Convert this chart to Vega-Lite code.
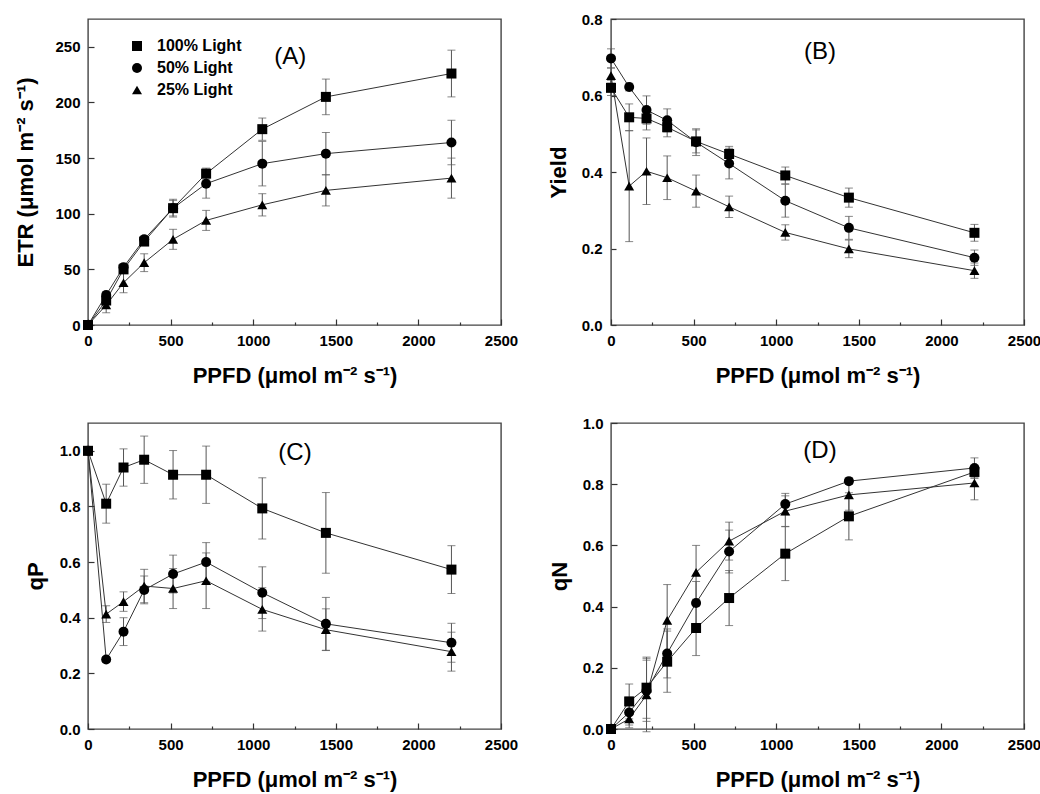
{
  "$schema": "https://vega.github.io/schema/vega-lite/v6.json",
  "background": "white",
  "padding": {"left": 14, "top": 11, "right": 5, "bottom": 5},
  "config": {
    "font": "Liberation Sans",
    "view": {"stroke": "#444", "strokeWidth": 1.4},
    "axis": {
      "labelFont": "Liberation Sans", "labelFontWeight": "bold", "labelFontSize": 15, "labelColor": "black",
      "titleFont": "Liberation Sans", "titleFontWeight": "bold", "titleFontSize": 22, "titleColor": "black",
      "grid": false, "domain": false, "tickColor": "#333", "tickWidth": 1.2, "labelFlush": false, "labelOverlap": false, "labelPadding": 14
    }
  },
  "datasets": {
    "d": [
      {"m":"ETR","light":"100% Light","ppfd":0,"v":0,"e":0},
      {"m":"ETR","light":"100% Light","ppfd":110,"v":22,"e":3},
      {"m":"ETR","light":"100% Light","ppfd":215,"v":50,"e":3},
      {"m":"ETR","light":"100% Light","ppfd":340,"v":75,"e":3},
      {"m":"ETR","light":"100% Light","ppfd":515,"v":105,"e":8},
      {"m":"ETR","light":"100% Light","ppfd":715,"v":136,"e":5},
      {"m":"ETR","light":"100% Light","ppfd":1055,"v":176,"e":10},
      {"m":"ETR","light":"100% Light","ppfd":1440,"v":205,"e":16},
      {"m":"ETR","light":"100% Light","ppfd":2200,"v":226,"e":21},
      {"m":"ETR","light":"50% Light","ppfd":0,"v":0,"e":0},
      {"m":"ETR","light":"50% Light","ppfd":110,"v":27,"e":3},
      {"m":"ETR","light":"50% Light","ppfd":215,"v":52,"e":3},
      {"m":"ETR","light":"50% Light","ppfd":340,"v":77,"e":3},
      {"m":"ETR","light":"50% Light","ppfd":515,"v":105,"e":7},
      {"m":"ETR","light":"50% Light","ppfd":715,"v":127,"e":13},
      {"m":"ETR","light":"50% Light","ppfd":1055,"v":145,"e":20},
      {"m":"ETR","light":"50% Light","ppfd":1440,"v":154,"e":19},
      {"m":"ETR","light":"50% Light","ppfd":2200,"v":164,"e":20},
      {"m":"ETR","light":"25% Light","ppfd":0,"v":0,"e":0},
      {"m":"ETR","light":"25% Light","ppfd":110,"v":18,"e":7},
      {"m":"ETR","light":"25% Light","ppfd":215,"v":38,"e":9},
      {"m":"ETR","light":"25% Light","ppfd":340,"v":56,"e":8},
      {"m":"ETR","light":"25% Light","ppfd":515,"v":77,"e":9},
      {"m":"ETR","light":"25% Light","ppfd":715,"v":94,"e":9},
      {"m":"ETR","light":"25% Light","ppfd":1055,"v":108,"e":10},
      {"m":"ETR","light":"25% Light","ppfd":1440,"v":121,"e":14},
      {"m":"ETR","light":"25% Light","ppfd":2200,"v":132,"e":18},

      {"m":"Yield","light":"100% Light","ppfd":0,"v":0.62,"e":0.02},
      {"m":"Yield","light":"100% Light","ppfd":110,"v":0.543,"e":0.035},
      {"m":"Yield","light":"100% Light","ppfd":215,"v":0.54,"e":0.03},
      {"m":"Yield","light":"100% Light","ppfd":340,"v":0.517,"e":0.025},
      {"m":"Yield","light":"100% Light","ppfd":515,"v":0.48,"e":0.03},
      {"m":"Yield","light":"100% Light","ppfd":715,"v":0.447,"e":0.02},
      {"m":"Yield","light":"100% Light","ppfd":1055,"v":0.391,"e":0.022},
      {"m":"Yield","light":"100% Light","ppfd":1440,"v":0.333,"e":0.025},
      {"m":"Yield","light":"100% Light","ppfd":2200,"v":0.241,"e":0.022},
      {"m":"Yield","light":"50% Light","ppfd":0,"v":0.697,"e":0.025},
      {"m":"Yield","light":"50% Light","ppfd":110,"v":0.622,"e":0.01},
      {"m":"Yield","light":"50% Light","ppfd":215,"v":0.562,"e":0.037},
      {"m":"Yield","light":"50% Light","ppfd":340,"v":0.535,"e":0.03},
      {"m":"Yield","light":"50% Light","ppfd":515,"v":0.478,"e":0.035},
      {"m":"Yield","light":"50% Light","ppfd":715,"v":0.422,"e":0.04},
      {"m":"Yield","light":"50% Light","ppfd":1055,"v":0.325,"e":0.043},
      {"m":"Yield","light":"50% Light","ppfd":1440,"v":0.254,"e":0.03},
      {"m":"Yield","light":"50% Light","ppfd":2200,"v":0.176,"e":0.02},
      {"m":"Yield","light":"25% Light","ppfd":0,"v":0.652,"e":0.02},
      {"m":"Yield","light":"25% Light","ppfd":110,"v":0.363,"e":0.145},
      {"m":"Yield","light":"25% Light","ppfd":215,"v":0.402,"e":0.087},
      {"m":"Yield","light":"25% Light","ppfd":340,"v":0.385,"e":0.057},
      {"m":"Yield","light":"25% Light","ppfd":515,"v":0.35,"e":0.042},
      {"m":"Yield","light":"25% Light","ppfd":715,"v":0.309,"e":0.028},
      {"m":"Yield","light":"25% Light","ppfd":1055,"v":0.242,"e":0.02},
      {"m":"Yield","light":"25% Light","ppfd":1440,"v":0.199,"e":0.023},
      {"m":"Yield","light":"25% Light","ppfd":2200,"v":0.142,"e":0.02},

      {"m":"qP","light":"100% Light","ppfd":0,"v":1.0,"e":0.01},
      {"m":"qP","light":"100% Light","ppfd":110,"v":0.81,"e":0.07},
      {"m":"qP","light":"100% Light","ppfd":215,"v":0.94,"e":0.067},
      {"m":"qP","light":"100% Light","ppfd":340,"v":0.968,"e":0.085},
      {"m":"qP","light":"100% Light","ppfd":515,"v":0.914,"e":0.087},
      {"m":"qP","light":"100% Light","ppfd":715,"v":0.914,"e":0.103},
      {"m":"qP","light":"100% Light","ppfd":1055,"v":0.793,"e":0.11},
      {"m":"qP","light":"100% Light","ppfd":1440,"v":0.705,"e":0.145},
      {"m":"qP","light":"100% Light","ppfd":2200,"v":0.573,"e":0.086},
      {"m":"qP","light":"50% Light","ppfd":0,"v":1.0,"e":0.01},
      {"m":"qP","light":"50% Light","ppfd":110,"v":0.25,"e":0.01},
      {"m":"qP","light":"50% Light","ppfd":215,"v":0.35,"e":0.05},
      {"m":"qP","light":"50% Light","ppfd":340,"v":0.5,"e":0.05},
      {"m":"qP","light":"50% Light","ppfd":515,"v":0.557,"e":0.068},
      {"m":"qP","light":"50% Light","ppfd":715,"v":0.6,"e":0.07},
      {"m":"qP","light":"50% Light","ppfd":1055,"v":0.49,"e":0.093},
      {"m":"qP","light":"50% Light","ppfd":1440,"v":0.378,"e":0.095},
      {"m":"qP","light":"50% Light","ppfd":2200,"v":0.31,"e":0.07},
      {"m":"qP","light":"25% Light","ppfd":0,"v":1.0,"e":0.01},
      {"m":"qP","light":"25% Light","ppfd":110,"v":0.413,"e":0.03},
      {"m":"qP","light":"25% Light","ppfd":215,"v":0.458,"e":0.035},
      {"m":"qP","light":"25% Light","ppfd":340,"v":0.514,"e":0.06},
      {"m":"qP","light":"25% Light","ppfd":515,"v":0.505,"e":0.072},
      {"m":"qP","light":"25% Light","ppfd":715,"v":0.533,"e":0.1},
      {"m":"qP","light":"25% Light","ppfd":1055,"v":0.43,"e":0.078},
      {"m":"qP","light":"25% Light","ppfd":1440,"v":0.357,"e":0.075},
      {"m":"qP","light":"25% Light","ppfd":2200,"v":0.278,"e":0.07},

      {"m":"qN","light":"100% Light","ppfd":0,"v":0,"e":0},
      {"m":"qN","light":"100% Light","ppfd":110,"v":0.09,"e":0.057},
      {"m":"qN","light":"100% Light","ppfd":215,"v":0.135,"e":0.1},
      {"m":"qN","light":"100% Light","ppfd":340,"v":0.22,"e":0.1},
      {"m":"qN","light":"100% Light","ppfd":515,"v":0.33,"e":0.09},
      {"m":"qN","light":"100% Light","ppfd":715,"v":0.428,"e":0.09},
      {"m":"qN","light":"100% Light","ppfd":1055,"v":0.573,"e":0.088},
      {"m":"qN","light":"100% Light","ppfd":1440,"v":0.695,"e":0.077},
      {"m":"qN","light":"100% Light","ppfd":2200,"v":0.84,"e":0.02},
      {"m":"qN","light":"50% Light","ppfd":0,"v":0,"e":0},
      {"m":"qN","light":"50% Light","ppfd":110,"v":0.054,"e":0.05},
      {"m":"qN","light":"50% Light","ppfd":215,"v":0.125,"e":0.1},
      {"m":"qN","light":"50% Light","ppfd":340,"v":0.247,"e":0.08},
      {"m":"qN","light":"50% Light","ppfd":515,"v":0.412,"e":0.07},
      {"m":"qN","light":"50% Light","ppfd":715,"v":0.58,"e":0.07},
      {"m":"qN","light":"50% Light","ppfd":1055,"v":0.735,"e":0.035},
      {"m":"qN","light":"50% Light","ppfd":1440,"v":0.81,"e":0.01},
      {"m":"qN","light":"50% Light","ppfd":2200,"v":0.853,"e":0.033},
      {"m":"qN","light":"25% Light","ppfd":0,"v":0,"e":0},
      {"m":"qN","light":"25% Light","ppfd":110,"v":0.033,"e":0.02},
      {"m":"qN","light":"25% Light","ppfd":215,"v":0.111,"e":0.12},
      {"m":"qN","light":"25% Light","ppfd":340,"v":0.355,"e":0.117},
      {"m":"qN","light":"25% Light","ppfd":515,"v":0.512,"e":0.088},
      {"m":"qN","light":"25% Light","ppfd":715,"v":0.614,"e":0.062},
      {"m":"qN","light":"25% Light","ppfd":1055,"v":0.712,"e":0.05},
      {"m":"qN","light":"25% Light","ppfd":1440,"v":0.765,"e":0.05},
      {"m":"qN","light":"25% Light","ppfd":2200,"v":0.804,"e":0.055}
    ]
  },
  "columns": 2,
  "spacing": {"row": 98, "column": 110},
  "bounds": "flush",
  "resolve": {"scale": {"shape": "independent"}, "legend": {"shape": "independent"}},
  "concat": [
    {
      "width": 413, "height": 306,
      "layer": [
        {
          "data": {"name": "d"},
          "transform": [{"filter": "datum.m === 'ETR'"}],
          "mark": {"type": "errorbar", "ticks": {"size": 8}, "color": "#555"},
          "encoding": {
            "x": {"field": "ppfd", "type": "quantitative", "scale": {"domain": [0, 2500], "nice": false}, "title": "PPFD (μmol m⁻² s⁻¹)"},
            "y": {"field": "v", "type": "quantitative", "scale": {"domain": [0, 275], "nice": false}, "title": "ETR (μmol m⁻² s⁻¹)"},
            "yError": {"field": "e"},
            "detail": {"field": "light"}
          }
        },
        {
          "data": {"name": "d"},
          "transform": [{"filter": "datum.m === 'ETR'"}],
          "mark": {"type": "line", "color": "#333", "strokeWidth": 1},
          "encoding": {
            "x": {"field": "ppfd", "type": "quantitative",
              "axis": {"title": "PPFD (μmol m⁻² s⁻¹)", "format": "d", "values": [0,250,500,750,1000,1250,1500,1750,2000,2250,2500],
                "labelExpr": "datum.value % 500 === 0 ? datum.label : ''", "labelOverlap": false,
                "tickSize": {"condition": {"test": "datum.value % 500 === 0", "value": -6}, "value": -3}, "titlePadding": 14}},
            "y": {"field": "v", "type": "quantitative",
              "axis": {"title": "ETR (μmol m⁻² s⁻¹)", "format": "d", "values": [0,25,50,75,100,125,150,175,200,225,250],
                "labelExpr": "datum.value % 50 === 0 ? datum.label : ''", "labelOverlap": false,
                "tickSize": {"condition": {"test": "datum.value % 50 === 0", "value": -6}, "value": -3}, "titlePadding": 17}},
            "detail": {"field": "light"}
          }
        },
        {
          "data": {"name": "d"},
          "transform": [{"filter": "datum.m === 'ETR'"}],
          "mark": {"type": "point", "filled": true, "color": "black", "opacity": 1, "size": 100},
          "encoding": {
            "x": {"field": "ppfd", "type": "quantitative"},
            "y": {"field": "v", "type": "quantitative"},
            "shape": {"field": "light", "type": "nominal",
              "scale": {"domain": ["100% Light", "50% Light", "25% Light"], "range": ["square", "circle", "triangle-up"]},
              "legend": {"title": null, "orient": "none", "legendX": 41, "legendY": 19, "padding": 0,
                "labelFont": "Liberation Sans", "labelFontSize": 16, "labelFontWeight": "bold", "labelColor": "black",
                "labelOffset": 12, "rowPadding": 6, "symbolSize": 100, "symbolOpacity": 1}}
          }
        },
        {
          "data": {"values": [{"label": "(A)"}]},
          "mark": {"type": "text", "fontSize": 24, "font": "Liberation Sans", "color": "black"},
          "encoding": {"x": {"datum": 1225}, "y": {"datum": 241}, "text": {"field": "label"}}
        }
      ]
    },
    {
      "width": 413, "height": 306,
      "layer": [
        {
          "data": {"name": "d"},
          "transform": [{"filter": "datum.m === 'Yield'"}],
          "mark": {"type": "errorbar", "ticks": {"size": 8}, "color": "#555"},
          "encoding": {
            "x": {"field": "ppfd", "type": "quantitative", "scale": {"domain": [0, 2500], "nice": false}, "title": "PPFD (μmol m⁻² s⁻¹)"},
            "y": {"field": "v", "type": "quantitative", "scale": {"domain": [0, 0.8], "nice": false}, "title": "Yield"},
            "yError": {"field": "e"},
            "detail": {"field": "light"}
          }
        },
        {
          "data": {"name": "d"},
          "transform": [{"filter": "datum.m === 'Yield'"}],
          "mark": {"type": "line", "color": "#333", "strokeWidth": 1},
          "encoding": {
            "x": {"field": "ppfd", "type": "quantitative",
              "axis": {"title": "PPFD (μmol m⁻² s⁻¹)", "format": "d", "values": [0,250,500,750,1000,1250,1500,1750,2000,2250,2500],
                "labelExpr": "datum.value % 500 === 0 ? datum.label : ''", "labelOverlap": false,
                "tickSize": {"condition": {"test": "datum.value % 500 === 0", "value": -6}, "value": -3}, "titlePadding": 14}},
            "y": {"field": "v", "type": "quantitative",
              "axis": {"title": "Yield", "format": ".1f", "values": [0,0.1,0.2,0.3,0.4,0.5,0.6,0.7,0.8],
                "labelOverlap": false, "tickSize": -5, "titlePadding": 11}},
            "detail": {"field": "light"}
          }
        },
        {
          "data": {"name": "d"},
          "transform": [{"filter": "datum.m === 'Yield'"}],
          "mark": {"type": "point", "filled": true, "color": "black", "opacity": 1, "size": 100},
          "encoding": {
            "x": {"field": "ppfd", "type": "quantitative"},
            "y": {"field": "v", "type": "quantitative"},
            "shape": {"field": "light", "type": "nominal",
              "scale": {"domain": ["100% Light", "50% Light", "25% Light"], "range": ["square", "circle", "triangle-up"]},
              "legend": null}
          }
        },
        {
          "data": {"values": [{"label": "(B)"}]},
          "mark": {"type": "text", "fontSize": 24, "font": "Liberation Sans", "color": "black"},
          "encoding": {"x": {"datum": 1265}, "y": {"datum": 0.714}, "text": {"field": "label"}}
        }
      ]
    },
    {
      "width": 413, "height": 306,
      "layer": [
        {
          "data": {"name": "d"},
          "transform": [{"filter": "datum.m === 'qP'"}],
          "mark": {"type": "errorbar", "ticks": {"size": 8}, "color": "#555"},
          "encoding": {
            "x": {"field": "ppfd", "type": "quantitative", "scale": {"domain": [0, 2500], "nice": false}, "title": "PPFD (μmol m⁻² s⁻¹)"},
            "y": {"field": "v", "type": "quantitative", "scale": {"domain": [0, 1.1], "nice": false}, "title": "qP"},
            "yError": {"field": "e"},
            "detail": {"field": "light"}
          }
        },
        {
          "data": {"name": "d"},
          "transform": [{"filter": "datum.m === 'qP'"}],
          "mark": {"type": "line", "color": "#333", "strokeWidth": 1},
          "encoding": {
            "x": {"field": "ppfd", "type": "quantitative",
              "axis": {"title": "PPFD (μmol m⁻² s⁻¹)", "format": "d", "values": [0,250,500,750,1000,1250,1500,1750,2000,2250,2500],
                "labelExpr": "datum.value % 500 === 0 ? datum.label : ''", "labelOverlap": false,
                "tickSize": {"condition": {"test": "datum.value % 500 === 0", "value": -6}, "value": -3}, "titlePadding": 14}},
            "y": {"field": "v", "type": "quantitative",
              "axis": {"title": "qP", "format": ".1f", "values": [0,0.1,0.2,0.3,0.4,0.5,0.6,0.7,0.8,0.9,1.0],
                "labelExpr": "round(datum.value * 10) % 2 === 0 ? datum.label : ''", "labelOverlap": false,
                "tickSize": {"condition": {"test": "round(datum.value * 10) % 2 === 0", "value": -6}, "value": -3}, "titlePadding": 12}},
            "detail": {"field": "light"}
          }
        },
        {
          "data": {"name": "d"},
          "transform": [{"filter": "datum.m === 'qP'"}],
          "mark": {"type": "point", "filled": true, "color": "black", "opacity": 1, "size": 100},
          "encoding": {
            "x": {"field": "ppfd", "type": "quantitative"},
            "y": {"field": "v", "type": "quantitative"},
            "shape": {"field": "light", "type": "nominal",
              "scale": {"domain": ["100% Light", "50% Light", "25% Light"], "range": ["square", "circle", "triangle-up"]},
              "legend": null}
          }
        },
        {
          "data": {"values": [{"label": "(C)"}]},
          "mark": {"type": "text", "fontSize": 24, "font": "Liberation Sans", "color": "black"},
          "encoding": {"x": {"datum": 1253}, "y": {"datum": 0.993}, "text": {"field": "label"}}
        }
      ]
    },
    {
      "width": 413, "height": 306,
      "layer": [
        {
          "data": {"name": "d"},
          "transform": [{"filter": "datum.m === 'qN'"}],
          "mark": {"type": "errorbar", "ticks": {"size": 8}, "color": "#555"},
          "encoding": {
            "x": {"field": "ppfd", "type": "quantitative", "scale": {"domain": [0, 2500], "nice": false}, "title": "PPFD (μmol m⁻² s⁻¹)"},
            "y": {"field": "v", "type": "quantitative", "scale": {"domain": [0, 1.0], "nice": false}, "title": "qN"},
            "yError": {"field": "e"},
            "detail": {"field": "light"}
          }
        },
        {
          "data": {"name": "d"},
          "transform": [{"filter": "datum.m === 'qN'"}],
          "mark": {"type": "line", "color": "#333", "strokeWidth": 1},
          "encoding": {
            "x": {"field": "ppfd", "type": "quantitative",
              "axis": {"title": "PPFD (μmol m⁻² s⁻¹)", "format": "d", "values": [0,250,500,750,1000,1250,1500,1750,2000,2250,2500],
                "labelExpr": "datum.value % 500 === 0 ? datum.label : ''", "labelOverlap": false,
                "tickSize": {"condition": {"test": "datum.value % 500 === 0", "value": -6}, "value": -3}, "titlePadding": 14}},
            "y": {"field": "v", "type": "quantitative",
              "axis": {"title": "qN", "format": ".1f", "values": [0,0.1,0.2,0.3,0.4,0.5,0.6,0.7,0.8,0.9,1.0],
                "labelExpr": "round(datum.value * 10) % 2 === 0 ? datum.label : ''", "labelOverlap": false,
                "tickSize": {"condition": {"test": "round(datum.value * 10) % 2 === 0", "value": -6}, "value": -3}, "titlePadding": 11}},
            "detail": {"field": "light"}
          }
        },
        {
          "data": {"name": "d"},
          "transform": [{"filter": "datum.m === 'qN'"}],
          "mark": {"type": "point", "filled": true, "color": "black", "opacity": 1, "size": 100},
          "encoding": {
            "x": {"field": "ppfd", "type": "quantitative"},
            "y": {"field": "v", "type": "quantitative"},
            "shape": {"field": "light", "type": "nominal",
              "scale": {"domain": ["100% Light", "50% Light", "25% Light"], "range": ["square", "circle", "triangle-up"]},
              "legend": null}
          }
        },
        {
          "data": {"values": [{"label": "(D)"}]},
          "mark": {"type": "text", "fontSize": 24, "font": "Liberation Sans", "color": "black"},
          "encoding": {"x": {"datum": 1265}, "y": {"datum": 0.909}, "text": {"field": "label"}}
        }
      ]
    }
  ]
}
